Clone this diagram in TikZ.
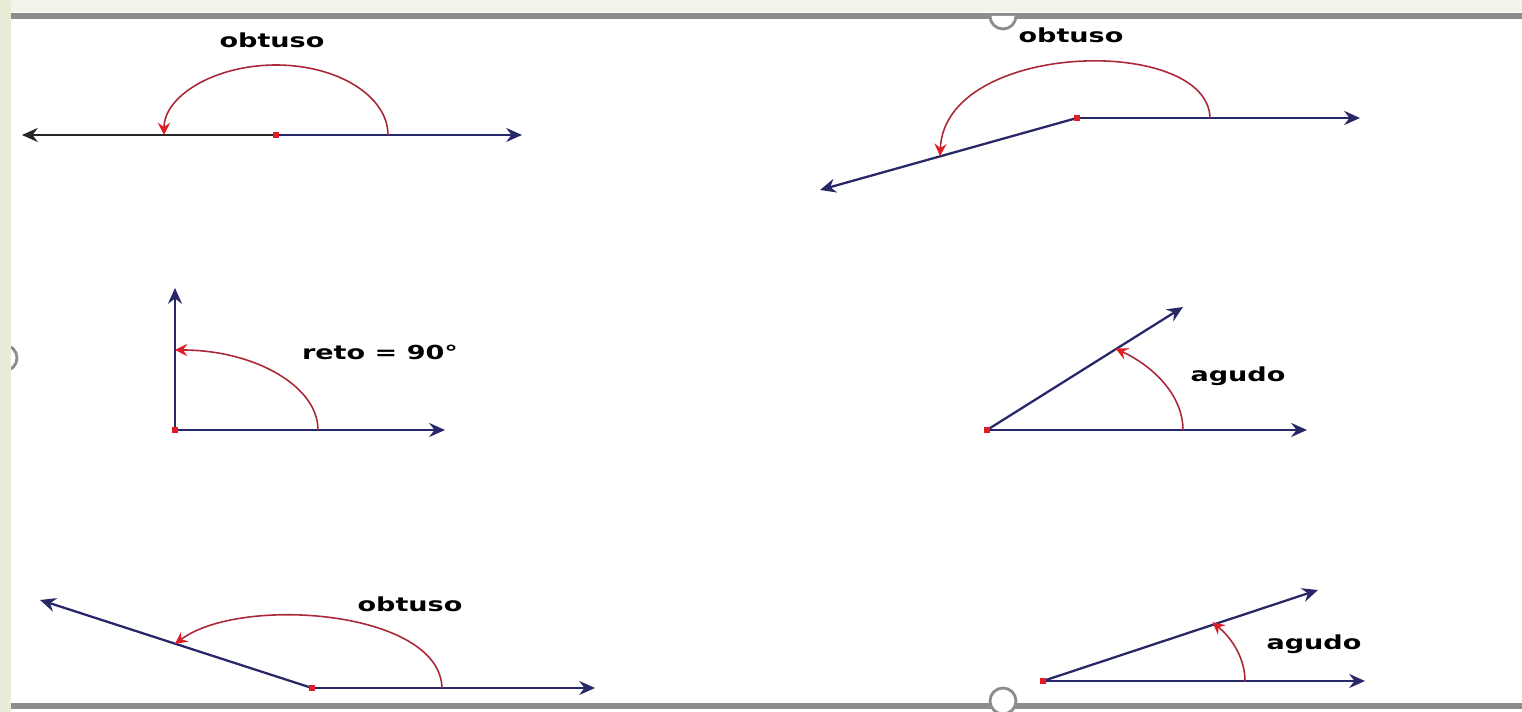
\documentclass[tikz,border=0pt]{standalone}
\usepackage{fontspec}
\newfontfamily\lblfont[FakeStretch=1.4]{DejaVu Sans}
\usetikzlibrary{arrows.meta}
\definecolor{raynavy}{RGB}{40,40,104}
\definecolor{arcred}{RGB}{170,40,56}
\definecolor{tipred}{RGB}{226,28,36}
\definecolor{framegray}{RGB}{140,140,140}
\definecolor{sidegreen}{RGB}{232,237,216}

\begin{document}
\begin{tikzpicture}[x=0.02cm, y=0.02cm,
  ray/.style={draw=raynavy, line width=1.3pt, -{Stealth[length=9pt,width=8pt,inset=3pt]}},
  turn/.style={draw=arcred, line width=0.9pt, -{Stealth[length=7pt,width=7pt,inset=2.5pt,color=tipred]}},
  vtx/.style={fill=tipred, inner sep=0pt, minimum width=3.6pt, minimum height=3pt},
  lbl/.style={font=\lblfont\bfseries\fontsize{11}{13}\selectfont, inner sep=0pt, anchor=base},
  handle/.style={draw=framegray, line width=1.6pt, fill=white},
]
  \useasboundingbox (0,0) rectangle (1522,712);
  \fill[sidegreen!60] (0,700) rectangle (1522,712);
  \draw[framegray, line width=3.2pt] (11,696) -- (1522,696);
  \draw[framegray, line width=3.2pt] (11,6) -- (1522,6);
  \draw[handle] (990,696) arc[start angle=180, end angle=360, radius=13];
  \draw[handle] (1003,11) circle[radius=13];
  \draw[handle] (4,354) circle[radius=13];
  \fill[sidegreen] (0,0) rectangle (11,712);

  % obtuso, top left
  \coordinate (A) at (276,577);
  \coordinate (A1) at (522,577);
  \coordinate (A2) at (22,577);
  \draw[ray] (A) -- (A1);
  \draw[ray, draw=black!85] (A) -- (A2);
  \draw[turn] (388,577) arc[start angle=0, end angle=180, x radius=112, y radius=70];
  \node[vtx] (a) at (A) {};
  \node[lbl] (t1) at (272,664) {obtuso};

  % obtuso, top right
  \coordinate (B) at (1077,594);
  \coordinate (B1) at (1360,594);
  \coordinate (B2) at (820,522);
  \draw[ray] (B) -- (B1);
  \draw[ray] (B) -- (B2);
  \draw[turn] (1210,594) .. controls (1208,677) and (945,672) .. (940,556);
  \node[vtx] (b) at (B) {};
  \node[lbl] (t2) at (1071,669) {obtuso};

  % reto
  \coordinate (C) at (175,282);
  \coordinate (C1) at (445,282);
  \coordinate (C2) at (175,424);
  \draw[ray] (C) -- (C1);
  \draw[ray] (C) -- (C2);
  \draw[turn] (318,282) arc[start angle=0, end angle=90, x radius=143, y radius=80];
  \node[vtx] (c) at (C) {};
  \node[lbl] (t3) at (380,352) {reto = 90°};

  % agudo, middle
  \coordinate (D) at (987,282);
  \coordinate (D1) at (1307,282);
  \coordinate (D2) at (1183,405);
  \draw[ray] (D) -- (D1);
  \draw[ray] (D) -- (D2);
  \draw[turn] (1183,282) arc[start angle=0, end angle=49, x radius=196, y radius=108];
  \node[vtx] (d) at (D) {};
  \node[lbl] (t4) at (1238,330) {agudo};

  % obtuso, bottom left
  \coordinate (E) at (312,24);
  \coordinate (E1) at (595,24);
  \coordinate (E2) at (40,112);
  \draw[ray] (E) -- (E1);
  \draw[ray] (E) -- (E2);
  \draw[turn] (442,24) .. controls (440,102) and (240,117) .. (175,68);
  \node[vtx] (e) at (E) {};
  \node[lbl] (t5) at (410,100) {obtuso};

  % agudo, bottom right
  \coordinate (F) at (1043,31);
  \coordinate (F1) at (1365,31);
  \coordinate (F2) at (1318,122);
  \draw[ray] (F) -- (F1);
  \draw[ray] (F) -- (F2);
  \draw[turn] (1245,31) arc[start angle=0, end angle=33, x radius=202, y radius=108];
  \node[vtx] (f) at (F) {};
  \node[lbl] (t6) at (1314,62) {agudo};
\end{tikzpicture}
\end{document}
